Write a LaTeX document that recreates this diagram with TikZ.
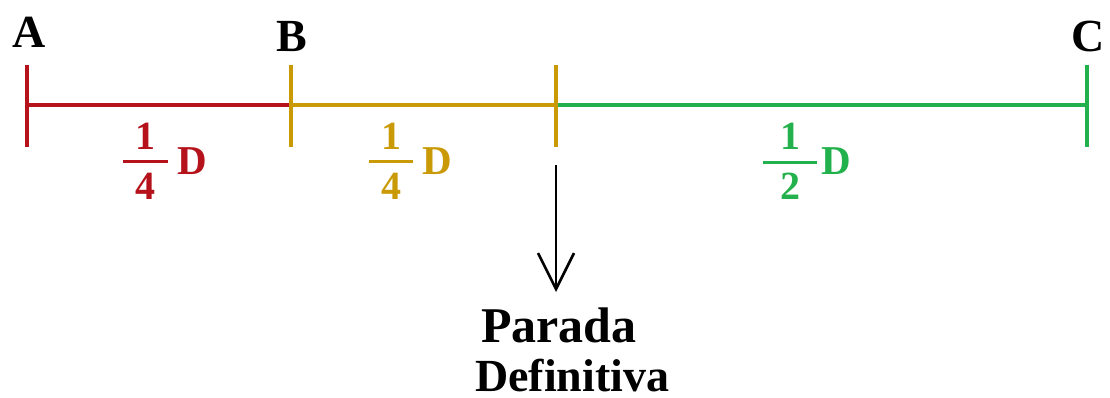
\documentclass[tikz,border=0pt]{standalone}
\usepackage{fontspec}
\setmainfont{Liberation Serif}
\usetikzlibrary{arrows.meta}
\definecolor{cred}{HTML}{B5121B}
\definecolor{cgold}{HTML}{C99A06}
\definecolor{cgreen}{HTML}{22B14C}
\tikzset{
  seg/.style={line width=3.6pt},
  lbl/.style={font=\fontsize{46}{50}\selectfont\bfseries, inner sep=0pt, anchor=base},
  frac/.style={font=\fontsize{40}{44}\selectfont\bfseries, inner sep=0pt, anchor=base},
  dlet/.style={font=\fontsize{41}{44}\selectfont\bfseries, inner sep=0pt, anchor=base west},
  fbar/.style={line width=3pt},
  txt/.style={inner sep=0pt, anchor=base west, text depth=0pt},
}
\begin{document}
\begin{tikzpicture}[x=1pt,y=-1pt]
\useasboundingbox (0,0) rectangle (1110,398);
\coordinate (A) at (27,105);
\coordinate (B) at (291,105);
\coordinate (M) at (556,105);
\coordinate (C) at (1087,105);
% segments
\draw[seg,cred] (A) -- (B);
\draw[seg,cgold] (B) -- (M);
\draw[seg,cgreen] (M) -- (C);
% ticks
\draw[seg,cred] (27,65) -- (27,147);
\draw[seg,cgold] (291,65) -- (291,147);
\draw[seg,cgold] (556,65) -- (556,147);
\draw[seg,cgreen] (1087,65) -- (1087,147);
% labels
\node[lbl] (lA) at (29,48) {A};
\node[lbl] (lB) at (292,52) {B};
\node[lbl] (lC) at (1088,52) {C};
% fractions
\node[frac,cred] (n1) at (145.5,150) {1};
\node[frac,cred] (d1) at (145.5,200) {4};
\draw[fbar,cred] (123,162) -- (168,162);
\node[dlet,cred] (D1) at (177,175) {D};
\node[frac,cgold] (n2) at (391,150) {1};
\node[frac,cgold] (d2) at (391,200) {4};
\draw[fbar,cgold] (369,162) -- (413,162);
\node[dlet,cgold] (D2) at (422,175) {D};
\node[frac,cgreen] (n3) at (790,150) {1};
\node[frac,cgreen] (d3) at (790,200) {2};
\draw[fbar,cgreen] (763,163) -- (817,163);
\node[dlet,cgreen] (D3) at (821,175) {D};
% arrow and text
\coordinate (as) at (556,165);
\coordinate (ae) at (556,292);
\draw[line width=2.6pt,-{Straight Barb[length=36pt,width=36pt,line width=2.6pt]}] (as) -- (ae);
\node[txt,font=\fontsize{50}{54}\selectfont\bfseries] (p1) at (481,342) {Parada};
\node[txt,font=\fontsize{46}{50}\selectfont\bfseries] (p2) at (475,391) {Definitiva};
\end{tikzpicture}
\end{document}
